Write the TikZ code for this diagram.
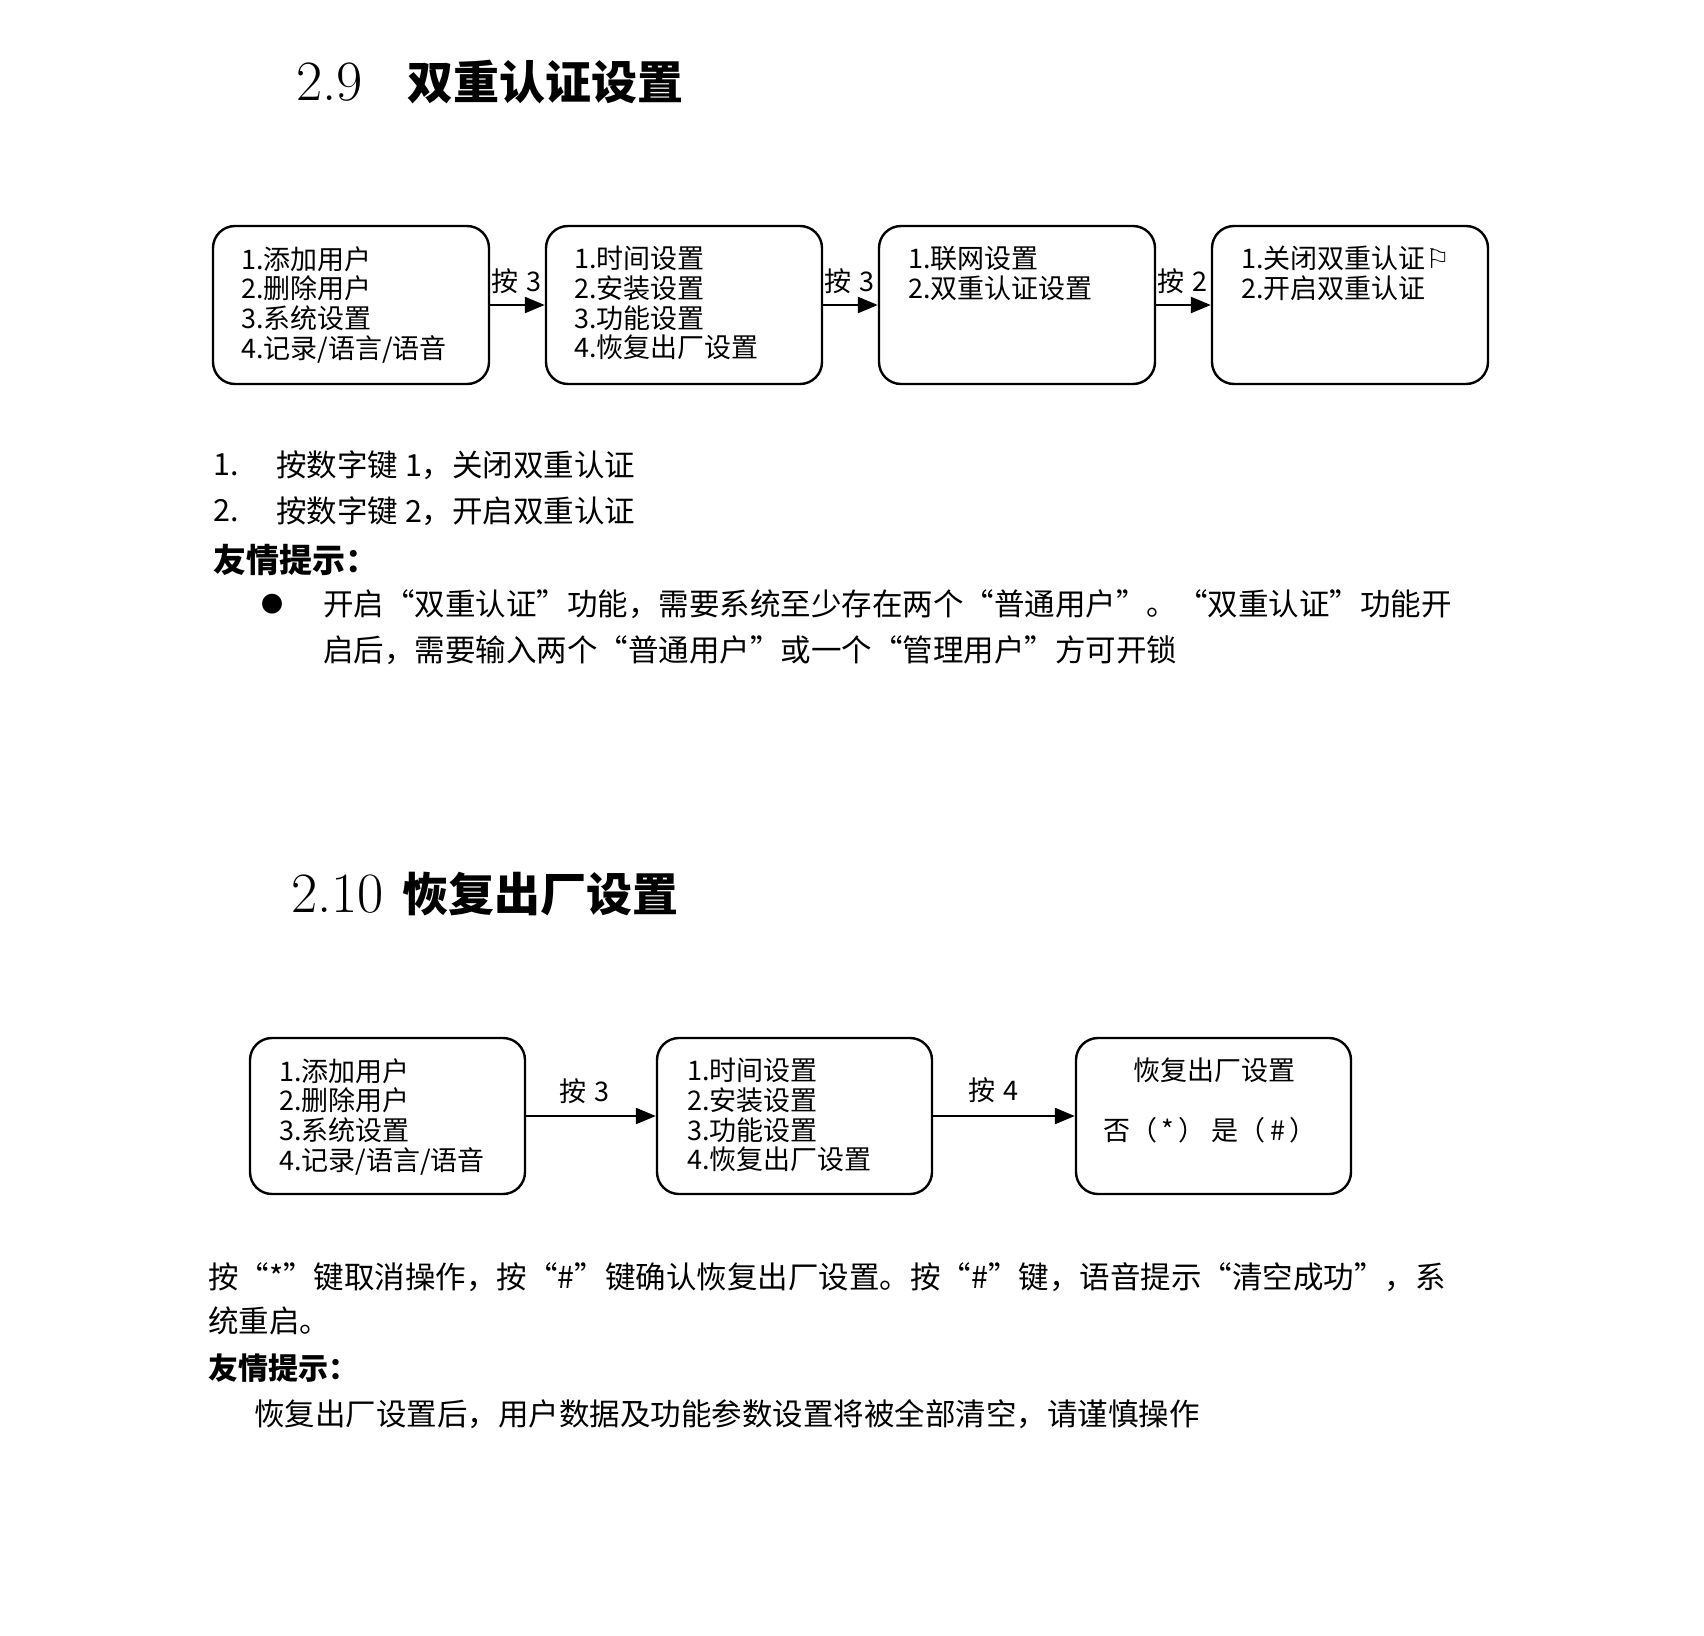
\documentclass[tikz,border=0pt]{standalone}
\usepackage{fontspec}
\usetikzlibrary{arrows.meta}
\newfontfamily\cjk{Noto Sans CJK SC}
\newfontfamily\symfont{DejaVu Sans}
\tikzset{
  menubox/.style={draw, line width=2.4pt, rounded corners=22pt, minimum width=276pt, minimum height=158pt, inner sep=0pt},
  menubox2/.style={menubox, minimum width=275pt, minimum height=156pt},
  menutext/.style={anchor=north west, inner sep=0pt, align=left, font=\cjk\fontsize{27}{29.7}\selectfont},
  presslabel/.style={inner sep=0pt, font=\cjk\fontsize{27}{27}\selectfont},
  arr/.style={line width=2.4pt, -{Triangle[length=20pt,width=16pt]}},
  body/.style={anchor=west, inner sep=0pt, font=\cjk\fontsize{30.5}{30.5}\selectfont},
  title/.style={anchor=west, inner sep=0pt, font=\cjk\bfseries\fontsize{46}{46}\selectfont},
  titlenum/.style={anchor=west, inner sep=0pt, font=\fontsize{57}{57}\selectfont}
}
\begin{document}
\begin{tikzpicture}[x=1pt,y=-1pt]
\useasboundingbox[fill=white] (0,0) rectangle (1704,1635);
% ---------- section 2.9 ----------
\node[titlenum] (t1n) at (296,82) {2.9};
\node[title] (t1) at (407,82) {双重认证设置};

\node[menubox] (a1) at (351,305) {};
\node[menubox] (a2) at (684,305) {};
\node[menubox] (a3) at (1017,305) {};
\node[menubox] (a4) at (1350,305) {};
\node[menutext] (a1t) at (241,246) {1.添加用户\\2.删除用户\\3.系统设置\\4.记录/语言/语音};
\node[menutext] (a2t) at (574,246) {1.时间设置\\2.安装设置\\3.功能设置\\4.恢复出厂设置};
\node[menutext] (a3t) at (908,246) {1.联网设置\\2.双重认证设置};
\node[menutext] (a4t) at (1241,246) {1.关闭双重认证{\symfont\fontsize{27}{27}\selectfont ⚐}\\2.开启双重认证};
\draw[arr] (a1) -- (a2);
\draw[arr] (a2) -- (a3);
\draw[arr] (a3) -- (a4);
\node[presslabel, anchor=west] (l1) at (491,281) {按\hspace{8pt}3};
\node[presslabel, anchor=west] (l2) at (824,281) {按\hspace{8pt}3};
\node[presslabel, anchor=west] (l3) at (1157,281) {按\hspace{8pt}2};

\node[body] (s1) at (213,465) {1.};
\node[body] (s1t) at (276,465) {按数字键 1，关闭双重认证};
\node[body] (s2) at (213,511) {2.};
\node[body] (s2t) at (276,511) {按数字键 2，开启双重认证};
\node[body, font=\cjk\bfseries\fontsize{33}{33}\selectfont] (h1) at (213,560) {友情提示：};
\node[body, font=\cjk\fontsize{22}{22}\selectfont] (bul) at (261,604) {●};
\node[body] (p1) at (323,604) {开启“双重认证”功能，需要系统至少存在两个“普通用户”。“双重认证”功能开};
\node[body] (p2) at (323,650) {启后，需要输入两个“普通用户”或一个“管理用户”方可开锁};

% ---------- section 2.10 ----------
\node[titlenum] (t2n) at (291,894) {2.10};
\node[title] (t2) at (402,894) {恢复出厂设置};

\node[menubox2] (b1) at (387.5,1116) {};
\node[menubox2] (b2) at (794.5,1116) {};
\node[menubox2] (b3) at (1213.5,1116) {};
\node[menutext] (b1t) at (279,1058) {1.添加用户\\2.删除用户\\3.系统设置\\4.记录/语言/语音};
\node[menutext] (b2t) at (687,1058) {1.时间设置\\2.安装设置\\3.功能设置\\4.恢复出厂设置};
\node[inner sep=0pt, font=\cjk\fontsize{27}{27}\selectfont] (b3a) at (1214,1070) {恢复出厂设置};
\node[inner sep=0pt, font=\cjk\fontsize{27}{27}\selectfont] (b3b) at (1210,1130) {否（\,*\,） 是（\,\#\,）};
\draw[arr] (b1) -- (b2);
\draw[arr] (b2) -- (b3);
\node[presslabel] (m1) at (584,1091) {按\hspace{8pt}3};
\node[presslabel] (m2) at (993,1090) {按\hspace{8pt}4};

\node[body] (q1) at (208,1277) {按“*”键取消操作，按“\#”键确认恢复出厂设置。按“\#”键，语音提示“清空成功”，系};
\node[body] (q2) at (208,1321) {统重启。};
\node[body, font=\cjk\bfseries\fontsize{30}{30}\selectfont] (h2) at (208,1368) {友情提示：};
\node[body] (q3) at (254,1414) {恢复出厂设置后，用户数据及功能参数设置将被全部清空，请谨慎操作};
\end{tikzpicture}
\end{document}
